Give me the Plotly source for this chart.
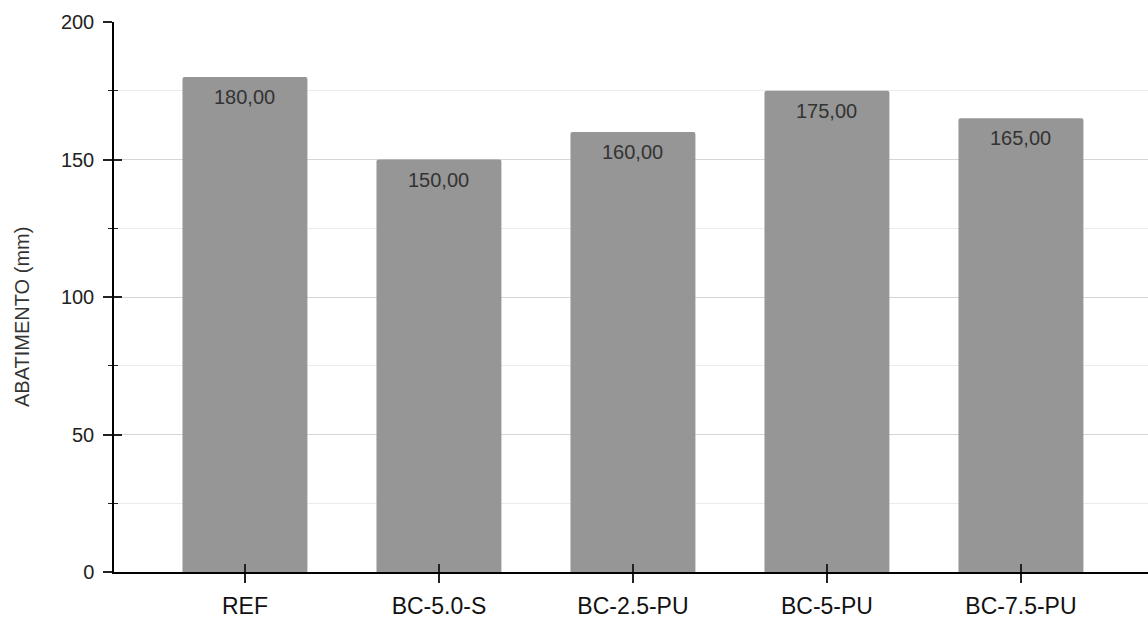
import plotly.graph_objects as go

categories = ["REF", "BC-5.0-S", "BC-2.5-PU", "BC-5-PU", "BC-7.5-PU"]
values = [180.0, 150.0, 160.0, 175.0, 165.0]
y_title = "ABATIMENTO (mm)"

FONT = "Liberation Sans, Arial, sans-serif"
TXT = "#333333"

fig = go.Figure()
fig.add_trace(go.Bar(
    x=categories, y=values, width=0.644,
    marker=dict(color="#969696", line=dict(width=0)),
    hoverinfo="skip", showlegend=False,
))
# invisible trace on overlay axes used for the inner half of crossing ticks
fig.add_trace(go.Scatter(
    x=categories, y=values, xaxis="x2", yaxis="y2",
    mode="markers", marker=dict(opacity=0), hoverinfo="skip", showlegend=False,
))

for c, v in zip(categories, values):
    fig.add_annotation(
        x=c, y=v, text=f"{v:.2f}".replace(".", ","), showarrow=False,
        yanchor="middle", yshift=-20, font=dict(family=FONT, size=20, color=TXT),
    )

# y-axis title (as annotation so it can sit slightly below centre, like the reference)
fig.add_annotation(
    xref="paper", yref="paper", x=0, y=0.5, xshift=-92, yshift=-20,
    text=y_title, textangle=-90, showarrow=False,
    xanchor="center", yanchor="middle",
    font=dict(family=FONT, size=20, color=TXT),
)

xr = [-0.675, 4.655]
yr = [0, 200]
fig.update_layout(
    width=1148, height=619,
    margin=dict(l=114, r=0, t=22, b=45),
    plot_bgcolor="white", paper_bgcolor="white",
    barcornerradius=2,
    font=dict(family=FONT, color=TXT),
    xaxis=dict(
        type="category", range=xr, showgrid=False,
        showline=True, linecolor="black", linewidth=1.5,
        ticks="outside", ticklen=9, tickwidth=1.5, tickcolor="#222",
        tickfont=dict(family=FONT, size=23, color="#111"),
        zeroline=False, ticklabelstandoff=4,
    ),
    yaxis=dict(
        range=yr, dtick=50, tick0=0,
        showline=True, linecolor="black", linewidth=1.5,
        ticks="outside", ticklen=9, tickwidth=1.5, tickcolor="#222",
        tickfont=dict(family=FONT, size=20, color="#222"),
        gridcolor="#d6d6d6", gridwidth=1,
        zeroline=False,
        minor=dict(dtick=25, ticks="outside", ticklen=4, tickwidth=1.2,
                   tickcolor="#222", showgrid=True, gridcolor="#ebebeb", gridwidth=1),
        ticklabelstandoff=5,
    ),
    xaxis2=dict(
        type="category", range=xr, overlaying="x", anchor="y2", side="bottom",
        showgrid=False, showline=False, showticklabels=False,
        ticks="inside", ticklen=8, tickwidth=1.5, tickcolor="#222", zeroline=False,
    ),
    yaxis2=dict(
        range=yr, dtick=50, tick0=0, overlaying="y", anchor="x2", side="left",
        showgrid=False, showline=False, showticklabels=False, zeroline=False,
        ticks="inside", ticklen=8, tickwidth=1.5, tickcolor="#222",
        minor=dict(dtick=25, ticks="inside", ticklen=4, tickwidth=1.2, tickcolor="#222", showgrid=False),
    ),
)

fig.write_html(
    "out.html",
    config={"displayModeBar": False},
    post_script="document.body.style.margin='0';document.body.style.overflow='hidden';",
)
